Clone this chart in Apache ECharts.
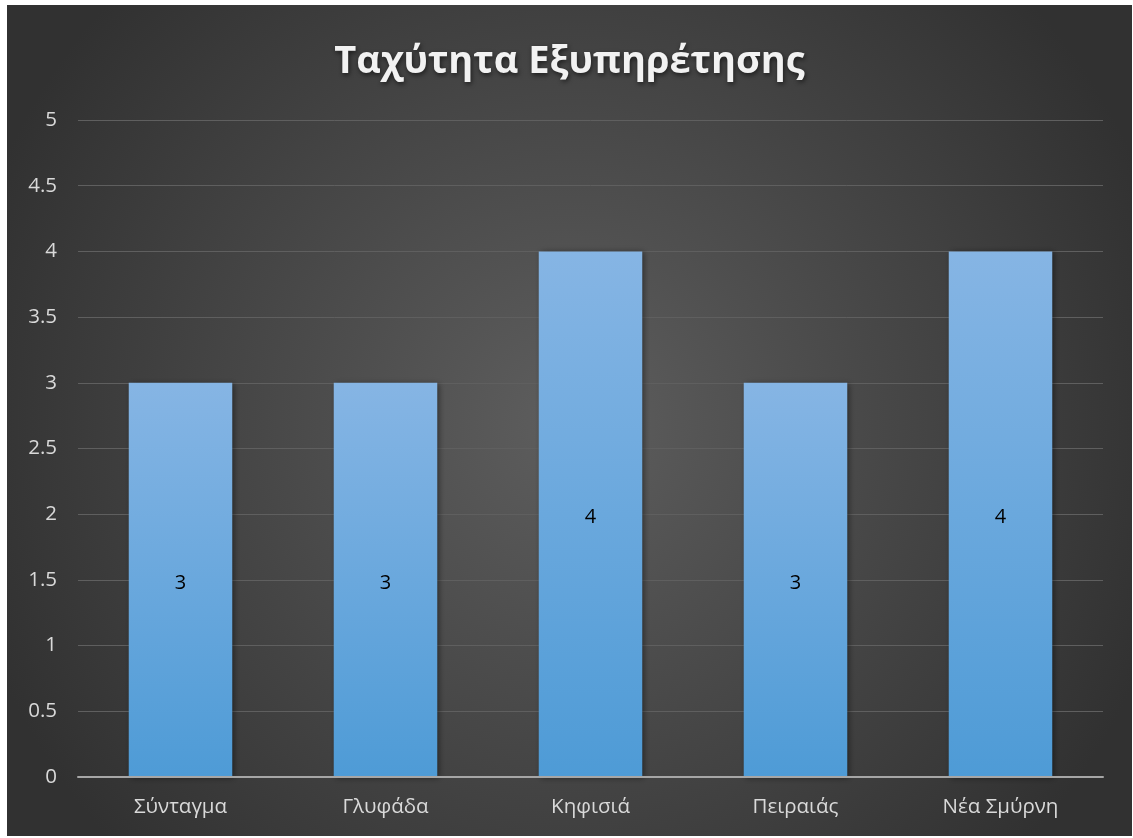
<!DOCTYPE html>
<html>
<head>
<meta charset="utf-8">
<script src="https://cdn.jsdelivr.net/npm/echarts@6/dist/echarts.min.js"></script>
<style>
  html, body { margin: 0; padding: 0; background: #ffffff; }
  #chart { position: absolute; left: 7px; top: 5px; width: 1125px; height: 831px; }
</style>
</head>
<body>
<div id="chart"></div>
<script>
// Service speed rating per branch
const titleText = 'Ταχύτητα Εξυπηρέτησης';
const categories = ['Σύνταγμα', 'Γλυφάδα', 'Κηφισιά', 'Πειραιάς', 'Νέα Σμύρνη'];
const speedValues = [3, 3, 4, 3, 4];
const yTicks = [0, 0.5, 1, 1.5, 2, 2.5, 3, 3.5, 4, 4.5, 5];

const chart = echarts.init(document.getElementById('chart'));
const font = '"Open Sans", "Noto Sans", sans-serif';

chart.setOption({
  animation: false,
  backgroundColor: {
    type: 'radial', x: 0.5, y: 0.5, r: 0.75,
    colorStops: [
      { offset: 0, color: '#5e5e5e' },
      { offset: 1, color: '#313131' }
    ]
  },
  title: {
    text: titleText,
    left: 'center',
    top: 33,
    textStyle: {
      color: '#f2f2f2',
      fontFamily: font,
      fontSize: 38,
      fontWeight: 'bold',
      textShadowColor: 'rgba(0,0,0,0.6)',
      textShadowBlur: 5,
      textShadowOffsetX: 1,
      textShadowOffsetY: 2
    }
  },
  grid: { left: 71, right: 29, top: 115, bottom: 59, containLabel: false },
  xAxis: {
    type: 'category',
    data: categories,
    axisTick: { show: false },
    axisLine: { lineStyle: { color: '#a6a6a6', width: 2 } },
    axisLabel: { color: '#d9d9d9', fontFamily: font, fontSize: 20.5, margin: 20 },
    z: 5
  },
  yAxis: {
    type: 'value',
    min: yTicks[0],
    max: yTicks[yTicks.length - 1],
    interval: yTicks[1] - yTicks[0],
    axisLine: { show: false },
    axisTick: { show: false },
    axisLabel: { color: '#d9d9d9', fontFamily: font, fontSize: 20.5, margin: 21 },
    splitLine: { lineStyle: { color: '#5f5f5f', width: 1 } }
  },
  series: [{
    type: 'bar',
    data: speedValues,
    barWidth: '50.5%',
    itemStyle: {
      color: {
        type: 'linear', x: 0, y: 0, x2: 0, y2: 1,
        colorStops: [
          { offset: 0, color: '#86b5e4' },
          { offset: 1, color: '#4e9bd6' }
        ]
      },
      shadowColor: 'rgba(0,0,0,0.45)',
      shadowBlur: 6,
      shadowOffsetX: 2,
      shadowOffsetY: 1
    },
    label: {
      show: true,
      position: 'inside',
      color: '#000000',
      fontFamily: font,
      fontSize: 20,
      offset: [0, 3]
    }
  }]
});
</script>
</body>
</html>
